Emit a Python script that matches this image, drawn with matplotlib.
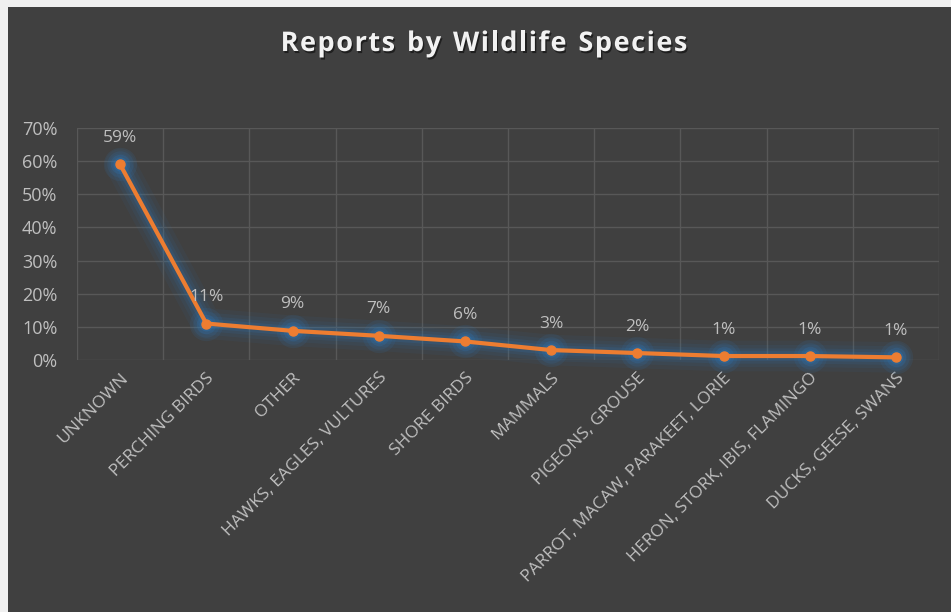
import matplotlib.pyplot as plt
import matplotlib.patheffects as pe
from matplotlib.patches import Rectangle
from matplotlib.ticker import PercentFormatter

# categories and their share of reports
species = ['UNKNOWN', 'PERCHING BIRDS', 'OTHER', 'HAWKS, EAGLES, VULTURES',
           'SHORE BIRDS', 'MAMMALS', 'PIGEONS, GROUSE',
           'PARROT, MACAW, PARAKEET, LORIE', 'HERON, STORK, IBIS, FLAMINGO',
           'DUCKS, GEESE, SWANS']
share = [0.59, 0.11, 0.088, 0.073, 0.056, 0.03, 0.021, 0.012, 0.012, 0.008]
y_ticks = [0, 0.1, 0.2, 0.3, 0.4, 0.5, 0.6, 0.7]
title = 'Reports by Wildlife Species'

bg = '#404040'
txt = '#bfbfbf'
font = 'Open Sans'
glow_col = '#2f75b5'

fig = plt.figure(figsize=(9.51, 6.12), dpi=100, facecolor='#f0f0f0')
fig.patches.append(Rectangle((8 / 951, 0), 1, 1 - 7 / 612, transform=fig.transFigure,
                             facecolor=bg, edgecolor='none', zorder=-10))

ax = fig.add_axes([77 / 951, 1 - 360 / 612, 862 / 951, 232 / 612])
ax.set_facecolor(bg)
x = list(range(len(species)))

# soft blue glow: wide faint band along the line, brighter blobs at the points
for lw, a in [(22, 0.07), (16, 0.09), (11, 0.12), (7, 0.18)]:
    ax.plot(x, share, color=glow_col, linewidth=lw, alpha=a, solid_capstyle='round',
            solid_joinstyle='round', zorder=2, clip_on=False)
for ms, a in [(24, 0.12), (19, 0.15), (14, 0.22), (10, 0.3)]:
    ax.plot(x, share, linestyle='none', marker='o', markersize=ms, color=glow_col,
            markeredgewidth=0, alpha=a, zorder=2, clip_on=False)
ax.plot(x, share, color='#ed7d31', linewidth=3, marker='o', markersize=6.5,
        solid_capstyle='round', zorder=3, clip_on=False)

for xi, v in zip(x, share):
    ax.annotate(f'{v:.0%}', (xi, v), xytext=(0, 19), textcoords='offset points',
                ha='center', va='center', color=txt, fontsize=12.5, family=font, zorder=4)

ax.set_xlim(-0.5, len(species) - 0.5)
ax.set_ylim(0, 0.7)
ax.set_yticks(y_ticks)
ax.yaxis.set_major_formatter(PercentFormatter(1.0, decimals=0))
ax.set_xticks(x)
ax.set_xticklabels(species, rotation=45, ha='right', rotation_mode='anchor',
                   color=txt, fontsize=12.5, family=font)
ax.set_xticks([i - 0.5 for i in range(len(species) + 1)], minor=True)
for lab in ax.get_yticklabels():
    lab.set_color(txt)
    lab.set_family(font)
    lab.set_fontsize(13)
ax.tick_params(axis='both', length=0, which='both')
ax.tick_params(axis='y', pad=14)
ax.tick_params(axis='x', pad=7)
ax.grid(True, which='major', axis='y', color='#585858', linewidth=1)
ax.grid(True, which='minor', axis='x', color='#585858', linewidth=1)
for s in ax.spines.values():
    s.set_visible(False)

# title with extra letter spacing, placed char by char
renderer = fig.canvas.get_renderer()
tkw = dict(color='#f2f2f2', fontsize=19.5, fontweight='bold', family=font, va='center',
           path_effects=[pe.withSimplePatchShadow(offset=(1, -1.5), shadow_rgbFace='black', alpha=0.5)])
track = 1.5
widths = []
for ch in title:
    t = fig.text(0, 0, ch if ch != ' ' else 'n', **tkw)
    w = t.get_window_extent(renderer).width
    widths.append(w * (0.5 if ch == ' ' else 1.0))
    t.remove()
total = sum(widths) + track * (len(title) - 1)
cx = 484 - total / 2
for ch, w in zip(title, widths):
    if ch != ' ':
        fig.text(cx / 951, 1 - 44 / 612, ch, ha='left', **tkw)
    cx += w + track

fig.savefig('out.png', dpi=100, facecolor=fig.get_facecolor())
